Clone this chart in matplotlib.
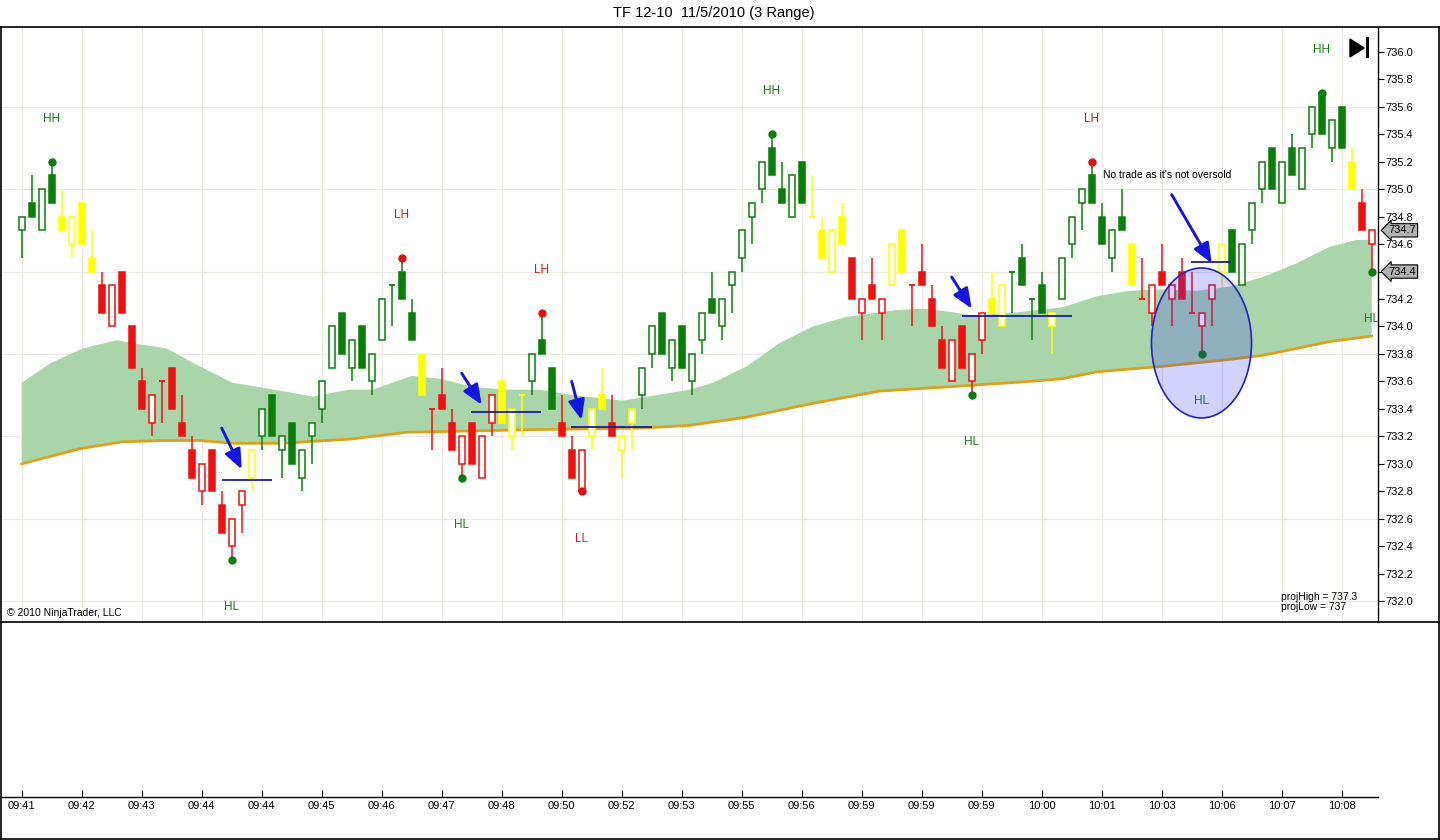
import matplotlib
matplotlib.use('Agg')
import matplotlib.pyplot as plt
import matplotlib.transforms as mtransforms
from matplotlib.patches import Rectangle, Ellipse, Polygon
from matplotlib.lines import Line2D

plt.rcParams['font.family'] = ['Liberation Sans', 'DejaVu Sans']

# 3 range bars, one per index
opens = [734.7, 734.9, 734.7, 735.1, 734.8, 734.6, 734.9, 734.5, 734.3, 734.0,
         734.4, 734.0, 733.6, 733.3, 733.6, 733.7, 733.3, 733.1, 732.8, 733.1,
         732.7, 732.4, 732.7, 732.9, 733.2, 733.5, 733.1, 733.3, 732.9, 733.2,
         733.4, 733.7, 734.1, 733.7, 734.0, 733.6, 733.9, 734.3, 734.4, 734.1,
         733.8, 733.4, 733.5, 733.3, 733.0, 733.3, 732.9, 733.3, 733.6, 733.2,
         733.5, 733.6, 733.9, 733.7, 733.3, 733.1, 732.8, 733.2, 733.5, 733.3,
         733.1, 733.3, 733.5, 733.8, 734.1, 733.7, 734.0, 733.6, 733.9, 734.2,
         734.0, 734.3, 734.5, 734.8, 735.0, 735.3, 735.0, 734.8, 735.2, 734.8,
         734.7, 734.4, 734.8, 734.5, 734.1, 734.3, 734.1, 734.3, 734.7, 734.3,
         734.4, 734.2, 733.9, 733.6, 734.0, 733.6, 733.9, 734.2, 734.0, 734.4,
         734.5, 734.2, 734.3, 734.0, 734.2, 734.6, 734.9, 735.1, 734.8, 734.5,
         734.8, 734.6, 734.2, 734.1, 734.4, 734.2, 734.4, 734.1, 734.0, 734.2,
         734.4, 734.7, 734.3, 734.7, 735.0, 735.3, 734.9, 735.3, 735.0, 735.4,
         735.7, 735.3, 735.6, 735.2, 734.9, 734.6]
highs = [734.8, 735.1, 735.0, 735.2, 735.0, 734.8, 734.9, 734.7, 734.4, 734.3,
         734.4, 734.0, 733.7, 733.5, 733.6, 733.7, 733.5, 733.2, 733.0, 733.1,
         732.8, 732.6, 732.8, 733.1, 733.4, 733.5, 733.2, 733.3, 733.1, 733.3,
         733.6, 734.0, 734.1, 733.9, 734.0, 733.8, 734.2, 734.3, 734.5, 734.2,
         733.8, 733.4, 733.7, 733.4, 733.2, 733.3, 733.2, 733.5, 733.6, 733.4,
         733.5, 733.8, 734.1, 733.7, 733.5, 733.2, 733.1, 733.4, 733.7, 733.5,
         733.2, 733.4, 733.7, 734.0, 734.1, 733.9, 734.0, 733.8, 734.1, 734.4,
         734.2, 734.4, 734.7, 734.9, 735.2, 735.4, 735.2, 735.1, 735.2, 735.1,
         734.8, 734.7, 734.9, 734.5, 734.2, 734.5, 734.2, 734.6, 734.7, 734.3,
         734.6, 734.3, 734.0, 733.9, 734.0, 733.8, 734.1, 734.4, 734.3, 734.4,
         734.6, 734.2, 734.4, 734.1, 734.5, 734.8, 735.0, 735.2, 734.9, 734.7,
         735.0, 734.6, 734.5, 734.3, 734.6, 734.3, 734.5, 734.4, 734.1, 734.3,
         734.6, 734.7, 734.6, 734.9, 735.2, 735.3, 735.2, 735.4, 735.3, 735.6,
         735.7, 735.5, 735.6, 735.3, 735.0, 734.7]
lows = [734.5, 734.8, 734.7, 734.9, 734.7, 734.5, 734.6, 734.4, 734.1, 734.0,
        734.1, 733.7, 733.4, 733.2, 733.3, 733.4, 733.2, 732.9, 732.7, 732.8,
        732.5, 732.3, 732.5, 732.8, 733.1, 733.2, 732.9, 733.0, 732.8, 733.0,
        733.3, 733.7, 733.8, 733.6, 733.7, 733.5, 733.9, 734.0, 734.2, 733.9,
        733.5, 733.1, 733.4, 733.1, 732.9, 733.0, 732.9, 733.2, 733.3, 733.1,
        733.2, 733.5, 733.8, 733.4, 733.2, 732.9, 732.8, 733.1, 733.4, 733.2,
        732.9, 733.1, 733.4, 733.7, 733.8, 733.6, 733.7, 733.5, 733.8, 734.1,
        733.9, 734.1, 734.4, 734.6, 734.9, 735.1, 734.9, 734.8, 734.9, 734.8,
        734.5, 734.4, 734.6, 734.2, 733.9, 734.2, 733.9, 734.3, 734.4, 734.0,
        734.3, 734.0, 733.7, 733.6, 733.7, 733.5, 733.8, 734.1, 734.0, 734.1,
        734.3, 733.9, 734.1, 733.8, 734.2, 734.5, 734.7, 734.9, 734.6, 734.4,
        734.7, 734.3, 734.2, 734.0, 734.3, 734.0, 734.2, 734.1, 733.8, 734.0,
        734.3, 734.4, 734.3, 734.6, 734.9, 735.0, 734.9, 735.1, 735.0, 735.3,
        735.4, 735.2, 735.3, 735.0, 734.7, 734.4]
closes = [734.8, 734.8, 735.0, 734.9, 734.7, 734.8, 734.6, 734.4, 734.1, 734.3,
          734.1, 733.7, 733.4, 733.5, 733.6, 733.4, 733.2, 732.9, 733.0, 732.8,
          732.5, 732.6, 732.8, 733.1, 733.4, 733.2, 733.2, 733.0, 733.1, 733.3,
          733.6, 734.0, 733.8, 733.9, 733.7, 733.8, 734.2, 734.3, 734.2, 733.9,
          733.5, 733.4, 733.4, 733.1, 733.2, 733.0, 733.2, 733.5, 733.3, 733.4,
          733.5, 733.8, 733.8, 733.4, 733.2, 732.9, 733.1, 733.4, 733.4, 733.2,
          733.2, 733.4, 733.7, 734.0, 733.8, 733.9, 733.7, 733.8, 734.1, 734.1,
          734.2, 734.4, 734.7, 734.9, 735.2, 735.1, 734.9, 735.1, 734.9, 734.8,
          734.5, 734.7, 734.6, 734.2, 734.2, 734.2, 734.2, 734.6, 734.4, 734.3,
          734.3, 734.0, 733.7, 733.9, 733.7, 733.8, 734.1, 734.1, 734.3, 734.4,
          734.3, 734.2, 734.1, 734.1, 734.5, 734.8, 735.0, 734.9, 734.6, 734.7,
          734.7, 734.3, 734.2, 734.3, 734.3, 734.3, 734.2, 734.1, 734.1, 734.3,
          734.6, 734.4, 734.6, 734.9, 735.2, 735.0, 735.2, 735.1, 735.3, 735.6,
          735.4, 735.5, 735.3, 735.0, 734.7, 734.7]
# g = green, y = yellow, r = red
bar_colors = ("gggg yyyy rrrrrrrrrrrrrrr y gggggggggggggggg y rrrrrrr yyy ggg rrr "
              "yy r yy ggggggggggggggggg yyyy rrrr yy rrrrrrrr yy gggg y ggggggg y "
              "rrrrrrrr y gggggggggggg y rr").replace(" ", "")

time_labels = ['09:41', '09:42', '09:43', '09:44', '09:44', '09:45', '09:46', '09:47',
               '09:48', '09:50', '09:52', '09:53', '09:55', '09:56', '09:59', '09:59',
               '09:59', '10:00', '10:01', '10:03', '10:06', '10:07', '10:08']

# cloud band (upper edge and lower orange line), read at these bar positions
band_hi_x = [0, 2.8, 6.1, 9.5, 11.8, 14.5, 17.8, 21.1, 24.5, 29.1, 32.8, 35.1, 39.0,
             41.8, 45.1, 48.5, 51.8, 55.1, 60.1, 63.5, 66.8, 69.1, 72.5, 75.8, 79.1,
             82.5, 87.5, 90.1, 92.5, 95.1, 99.1, 104.1, 107.5, 110.8, 114.1, 117.5,
             120.8, 124.1, 127.5, 130.8, 133.5, 135]
band_hi = [733.59, 733.73, 733.84, 733.90, 733.87, 733.84, 733.71, 733.59, 733.55,
           733.49, 733.54, 733.54, 733.64, 733.62, 733.56, 733.54, 733.54, 733.50,
           733.46, 733.50, 733.54, 733.59, 733.71, 733.88, 734.00, 734.07, 734.12,
           734.13, 734.11, 734.08, 734.10, 734.14, 734.22, 734.26, 734.27, 734.26,
           734.29, 734.36, 734.46, 734.58, 734.63, 734.63]
band_lo_x = [0, 5.8, 10, 14.1, 17.8, 21.1, 26.1, 32.8, 38.5, 51.8, 61.8, 66.8, 72.5,
             79.1, 85.8, 92.5, 100.8, 104.1, 107.5, 114.1, 120.8, 124.1, 127.5,
             130.8, 135]
band_lo = [733.00, 733.11, 733.16, 733.17, 733.17, 733.15, 733.15, 733.18, 733.23,
           733.25, 733.26, 733.28, 733.34, 733.44, 733.53, 733.56, 733.60, 733.62,
           733.67, 733.71, 733.76, 733.79, 733.84, 733.89, 733.93]

swing_bars = [3, 21, 38, 44, 52, 56, 75, 95, 107, 118, 130, 135]
swing_labels = ['HH', 'HL', 'LH', 'HL', 'LH', 'LL', 'HH', 'HL', 'LH', 'HL', 'HH', 'HL']

# blue entry lines: start bar, end bar, price
entry_x0 = [20.0, 44.9, 54.9, 94.0, 116.9]
entry_x1 = [25.0, 51.9, 63.0, 105.0, 120.9]
entry_px = [732.88, 733.38, 733.27, 734.08, 734.47]

# arrows: tail (bar, price) -> head (bar, price)
arrow_tail = [(20.0, 733.26), (44.0, 733.66), (55.0, 733.60), (93.0, 734.36), (115.0, 734.96)]
arrow_head = [(22.0, 732.96), (46.0, 733.43), (56.0, 733.32), (95.0, 734.13), (119.0, 734.46)]

GREEN = '#0a7d0a'
RED = '#ee1111'
YELLOW = '#ffff00'
palette = {'g': GREEN, 'y': YELLOW, 'r': RED}
TXT_GREEN = '#1c7a1c'
TXT_RED = '#cc2020'

W, H = 1440, 840
fig = plt.figure(figsize=(14.4, 8.4), dpi=100)
fig.patch.set_facecolor('white')

ax = fig.add_axes([0, 1 - 622 / H, 1378 / W, (622 - 27) / H])
ax2 = fig.add_axes([0, 1 - 797 / H, 1378 / W, (797 - 622) / H], sharex=ax)

n = len(opens)
ax.set_xlim(-2.17, 135.63)
ax.set_ylim(731.849, 736.18)

# grid
for gx in range(0, n, 6):
    ax.axvline(gx, color='#ebe9e2', lw=0.9, zorder=0)
for gy in [732.0, 732.6, 733.2, 733.8, 734.4, 735.0, 735.6]:
    ax.axhline(gy, color='#ebe9e2', lw=0.9, zorder=0)

# cloud
poly_x = band_hi_x + band_lo_x[::-1]
poly_y = band_hi + band_lo[::-1]
ax.fill(poly_x, poly_y, color='#aad4aa', lw=0, zorder=1)
ax.plot(band_lo_x, band_lo, color='#d9a21c', lw=2, zorder=2)

# candles
w = 0.62
for i in range(n):
    o, h, l, c = opens[i], highs[i], lows[i], closes[i]
    col = palette[bar_colors[i]]
    ax.vlines(i, l, h, color=col, lw=1.1, zorder=3)
    if o == c:
        ax.hlines(o, i - w / 2, i + w / 2, color=col, lw=1.3, zorder=4)
    elif c > o:
        ax.add_patch(Rectangle((i - w / 2, o), w, c - o, facecolor='white',
                               edgecolor=col, lw=1.1, zorder=4))
    else:
        ax.add_patch(Rectangle((i - w / 2, c), w, o - c, facecolor=col,
                               edgecolor=col, lw=1.1, zorder=4))

# swing points
for b, lab in zip(swing_bars, swing_labels):
    is_high = lab[1] == 'H'
    py = highs[b] if is_high else lows[b]
    col = GREEN if lab[0] == 'H' else '#dd1111'
    tcol = TXT_GREEN if lab[0] == 'H' else TXT_RED
    ax.plot(b, py, 'o', ms=5, color=col, zorder=5)
    ax.annotate(lab, (b, py), xytext=(0, 31 if is_high else -34),
                textcoords='offset points', ha='center', va='center',
                fontsize=8.5, color=tcol, zorder=5, annotation_clip=True, clip_on=True)

# entry lines and arrows
for x0, x1, py in zip(entry_x0, entry_x1, entry_px):
    ax.hlines(py, x0, x1, color='#1a1a9a', lw=1.3, zorder=7)
for t, hd in zip(arrow_tail, arrow_head):
    ax.annotate('', xy=hd, xytext=t,
                arrowprops=dict(arrowstyle='-|>,head_length=0.6,head_width=0.25',
                                color='#1515dd', lw=2.1,
                                mutation_scale=20, shrinkA=0, shrinkB=0),
                zorder=7)

ax.add_patch(Ellipse((117.98, 733.88), 10.0, 1.092, facecolor=(0.2, 0.2, 1.0, 0.22),
                     edgecolor='#2222bb', lw=1.2, zorder=6))

ax.text(108.1, 735.10, "No trade as it's not oversold", fontsize=7.5,
        ha='left', va='center', color='black', zorder=8)
ax.text(0.005, 0.015, '\u00a9 2010 NinjaTrader, LLC', transform=ax.transAxes,
        fontsize=7.5, ha='left', va='center')
ax.text(0.9296, 0.017, 'projHigh = 737.3\nprojLow = 737', transform=ax.transAxes,
        fontsize=7.5, ha='left', va='bottom', linespacing=1.0)

# right price axis
ax.yaxis.tick_right()
ax.set_yticks([732.0 + 0.2 * k for k in range(21)])
ax.set_yticklabels(['%.1f' % (732.0 + 0.2 * k) for k in range(21)])
ax.tick_params(axis='y', direction='out', length=4, pad=1.5, labelsize=8, width=0.8)
ax.tick_params(axis='x', bottom=False, labelbottom=False)
for s in ['left', 'top', 'bottom']:
    ax.spines[s].set_visible(False)
ax.spines['right'].set_color('black')
ax.spines['right'].set_linewidth(1.0)

trans = mtransforms.blended_transform_factory(ax.transAxes, ax.transData)
for val in [closes[-1], lows[-1]]:
    ax.text(1.0075, val, '%.1f' % val, transform=trans, fontsize=8, ha='left', va='center',
            clip_on=False, zorder=10,
            bbox=dict(boxstyle='larrow,pad=0.15', fc='#b2b2b2', ec='black', lw=0.8))

# lower empty panel with time axis
ax2.set_yticks([])
for s in ['left', 'top', 'right']:
    ax2.spines[s].set_visible(False)
ax2.spines['bottom'].set_linewidth(1.0)
ax2.set_xticks(list(range(0, n, 6)))
ax2.set_xticklabels(time_labels)
ax2.tick_params(axis='x', direction='in', length=5, pad=3, labelsize=8, width=0.8)
ax2.patch.set_alpha(0)

# frame lines
fig.add_artist(Line2D([0, 1], [1 - 27 / H, 1 - 27 / H], color='black', lw=1.2))
fig.add_artist(Line2D([0, 1], [1 - 622 / H, 1 - 622 / H], color='black', lw=1.2))
fig.add_artist(Line2D([0.5 / W, 0.5 / W], [1 - 839 / H, 1 - 27 / H], color='black', lw=1.2))
fig.add_artist(Line2D([1439 / W, 1439 / W], [1 - 839 / H, 1 - 27 / H], color='black', lw=1.2))
fig.add_artist(Line2D([0, 1], [1 - 839 / H, 1 - 839 / H], color='black', lw=1.2))

# skip-to-end icon
fig.add_artist(Polygon([[1350 / W, 1 - 39 / H], [1350 / W, 1 - 57 / H], [1364 / W, 1 - 48 / H]],
                       closed=True, fc='black', ec='black', transform=fig.transFigure))
fig.add_artist(Rectangle((1366 / W, 1 - 58 / H), 3 / W, 21 / H, fc='black', ec='none',
                         transform=fig.transFigure))

fig.text(714 / W, 1 - 13 / H, 'TF 12-10  11/5/2010 (3 Range)', ha='center', va='center',
         fontsize=10.5)

fig.savefig('out.png', dpi=100)
